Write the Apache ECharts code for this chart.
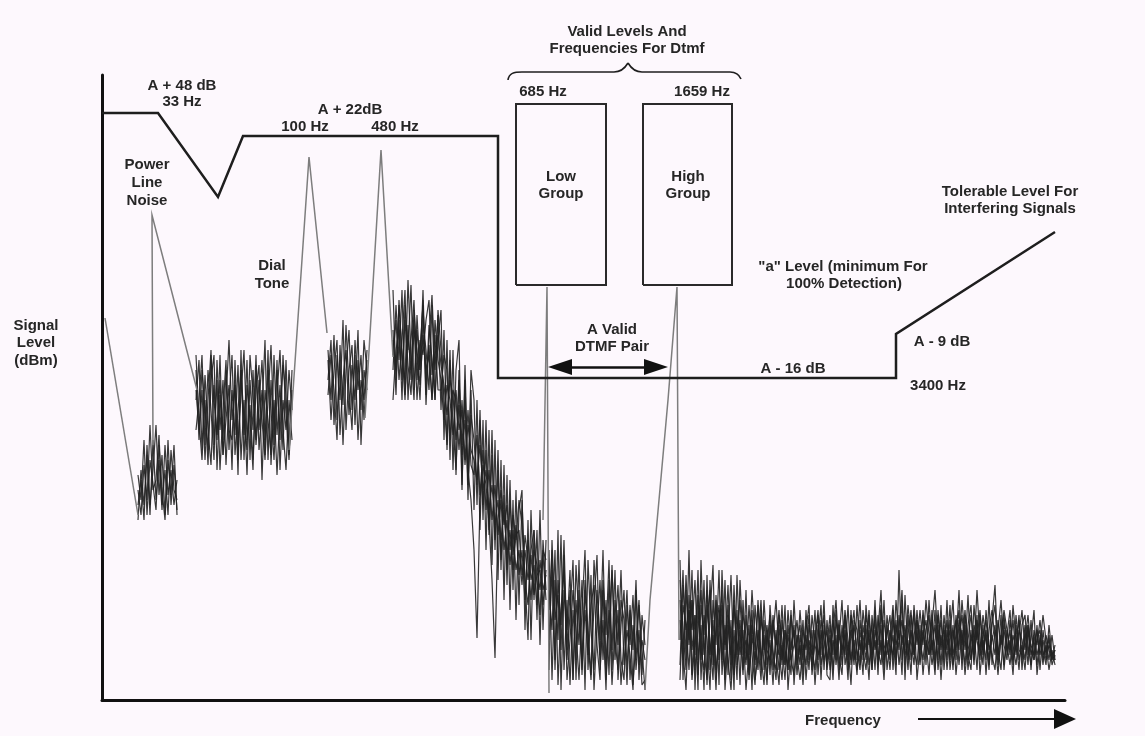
<!DOCTYPE html>
<html><head><meta charset="utf-8">
<script src="https://cdn.jsdelivr.net/npm/echarts@6/dist/echarts.min.js"></script>
<style>html,body{margin:0;padding:0;background:#fdf8fd}#c{width:1145px;height:736px}</style>
</head><body><div id="c"></div>
<script>
// ---- Data (relative frequency position / relative signal level units) ----
const maskFreq  = [0, 56, 116, 141, 396, 396, 794, 794, 953];
const maskLevel = [587, 587, 503, 564, 564, 322, 322, 366, 468];
const lowGroupFreq  = [414, 504];
const highGroupFreq = [541, 630];
const groupLevel    = [415, 596];
const introFreq = [3, 36],            introLevel = [382, 185];
const powerFreq = [51, 50, 95],       powerLevel = [255, 485, 310];
const tone100Freq = [187, 207, 225],  tone100Level = [250, 543, 367];
const tone480Freq = [263, 279, 291],  tone480Level = [282, 550, 343];
const lowToneFreq = [441, 445, 447],  lowToneLevel = [180, 413, 7];
const highToneFreq = [543, 548, 566, 575, 577], highToneLevel = [10, 100, 300, 413, 60];
const pairFreq = [458, 554], pairLevel = 333;
const noiseStep = 3;
const noiseStart = [36, 94, 226, 291, 447, 578];
const noiseR1 = [
 [180,230,195,245,185,260,200,240,190,255,205,230,195,220],
 [210,185,235,200,275,210,220,265,195,230,185,250,210,200],
 [195,220,180,255,195,230,275,205,245,185,260,195,235,190],
 [225,200,260,185,240,215,190,255,210,180,240,205,255,185]];
const noiseR2 = [
 [330,260,310,240,300,350,255,320,230,290,340,250,310,265,335,240,300,225,320,270,345,250,290,360,240,320,255,340,230,300,270,330,290],
 [300,340,250,325,270,235,315,260,345,245,280,315,230,340,255,305,350,260,295,240,310,335,220,310,280,245,345,265,315,250,340,245,310],
 [270,300,345,255,330,290,240,340,270,320,235,300,345,245,290,330,265,340,240,330,255,295,340,260,330,290,240,305,350,270,230,300,260],
 [345,280,240,300,235,320,345,230,305,260,330,270,260,320,225,350,240,315,280,230,335,270,310,245,350,235,300,225,290,335,305,250,330],
 [310,270,330,290,250,345,300,265,320,245,300,360,280,315,240,330,280,250,345,305,260,320,280,240,300,355,270,330,260,345,285,240,300]];
const noiseR3 = [
 [350,300,365,280,340,255,330,370,290,345,260,320,300,350],
 [320,360,275,345,300,380,270,330,355,275,340,290,360,330],
 [340,280,330,360,265,320,350,285,335,300,370,255,330,310],
 [305,345,310,260,355,295,375,310,270,360,310,345,280,340]];
const noiseR4 = [
 [410,320,380,300,395,350,415,310,370,330,400,295,360,405,330,385, 290,370,250,350,230,330,360,215,320,200,310, 190,300,170,280,150,270,135,260,120,240,100,225,90, 200,80,190,210,70,180,60,170,80,190,70,160],
 [330,395,340,410,305,375,320,390,345,300,380,350,310,395,300,360, 390,260,360,240,350,225,330,210,335,220,330, 300,195,290,180,280,165,270,150,250,130,235,115,220, 110,210,95,200,120,60,190,100,170,55,160,110],
 [370,305,400,340,320,420,345,300,385,330,410,305,375,340,300,390, 350,300,255,340,275,230,320,255,300,215,285, 260,215,280,195,250,170,245,160,230,140,205,130,200, 145,175,125,150,100,160,120,135,95,140,110,125],
 [345,380,320,360,410,300,360,400,320,360,345,380,400,325,365,310, 310,345,330,260,310,300,250,300,240,290,235, 225,265,205,250,190,230,180,215,165,200,150,180,135, 170,130,150,115,165,140,100,150,135,110,145,100],
 [300,350,370,320,380,335,305,370,350,315,365,330,345,300,380,340, 320,280,315,300,265,310,270,290,235,275,250, 240,220,255,210,230,190,215,175,200,160,190,145,170, 130,165,170,125,150,120,145,105,125,130,95,130],
 [360,330,395,350,300,365,330,380,300,350,395,320,355,300,345,365, 335,315,285,320,305,260,295,245,280,230,200, 150,62,200,235,215,180,120,42,180,210,175,195,150, 185,160,200,175,120,95,150,170,120,85,150,140]];
const noiseR5 = [
 [150,20,120,60,165,30,100,15,90,40,140,25,110,60,20,95,145,30,80,10,120,50,130,20,75,110,30,90,15,60,100,25,80],
 [60,130,40,170,10,110,70,130,20,100,55,120,10,140,70,30,110,60,150,35,90,15,70,115,40,20,95,55,105,30,70,15,20],
 [110,70,150,15,90,130,40,85,140,20,110,30,90,45,125,10,70,120,40,100,25,135,40,90,15,60,110,20,75,40,95,50,10],
 [30,160,80,105,50,145,20,60,110,70,20,90,150,30,95,115,55,20,120,65,140,30,100,55,130,35,70,45,10,110,35,60,40],
 [90,150,30,120,75,160,50,110,20,135,80,40,120,70,25,140,90,45,110,20,75,130,60,30,100,80,15,95,50,120,20,85,55]];
const noiseR6 = [
 [140,20,110,60,130,10,95,40,120,15, 85,135,20,70,110,10,60,125,30,90, 15,100,40,75,10,95,55,20,80,35, 60,15,70,30,55,20,75,40,25,65,
  35,80,20,60,45,90,25,70,40,55, 85,30,65,20,75,45,95,35,60,25, 80,50,30,70,40,100,35,60,20,75, 45,65,25,130,40,70,30,85,50,35,
  75,25,60,45,90,30,70,20,65,50, 95,35,55,110,40,75,30,65,45,85, 25,60,40,100,35,70,50,30,80,45, 60,25,75,40,55,30,70,45,60,35, 65,40,55,30,50,35],
 [60,130,40,150,25,85,10,140,50,20, 120,45,100,15,130,50,95,20,115,45, 80,30,110,20,65,35,100,45,15,70, 25,85,45,15,80,50,30,90,15,60,
  75,25,90,40,70,15,60,95,30,80, 40,70,100,45,25,85,30,65,90,40, 60,25,95,55,75,30,85,45,100,30, 60,95,40,70,25,105,45,60,90,20,
  55,85,35,100,50,75,40,95,30,70, 45,75,25,60,85,50,105,40,70,30, 85,45,65,30,75,95,40,85,30,65, 90,40,55,85,30,70,35,80,40,75, 30,70,45,65,35,45],
 [100,50,10,90,70,120,40,75,10,125, 30,65,10,90,40,120,25,80,10,125, 45,70,10,50,90,20,45,80,60,15, 95,50,20,75,35,95,10,55,70,35,
  55,15,70,95,25,60,85,20,75,40, 65,20,80,60,100,35,55,15,80,70, 35,90,60,20,85,50,70,110,40,65, 85,30,75,50,100,20,85,40,65,80,
  40,90,60,25,75,110,55,80,40,100, 30,60,80,35,70,25,60,85,50,110, 60,35,90,55,45,30,70,100,55,40, 80,55,35,65,90,50,75,30,70,55, 80,50,35,75,45,40],
 [20,95,75,30,100,45,130,20,85,60, 10,100,55,130,25,75,40,10,70,20, 120,60,35,95,45,15,70,30,100,50, 40,65,100,50,20,70,55,25,100,45,
  20,55,35,75,50,30,75,45,100,25, 20,95,40,75,50,65,20,90,40,55, 100,40,75,35,60,80,25,90,55,45, 70,40,100,60,80,45,60,25,95,55,
  90,55,100,65,35,60,85,50,75,30, 65,100,40,75,55,90,45,30,95,60, 40,75,25,70,90,60,25,65,90,70, 45,95,60,30,75,85,45,60,90,25, 55,85,60,40,65,40],
 [80,40,125,55,100,30,70,110,45,95, 60,20,105,40,85,55,115,35,95,50, 70,25,85,45,110,60,30,90,50,75, 35,80,55,90,40,70,30,85,60,40,
  90,50,65,30,85,55,40,80,60,35, 75,45,90,30,60,85,50,70,35,95, 50,65,40,85,30,70,55,95,40,60, 30,80,55,70,110,35,65,90,45,70,
  35,65,80,45,60,25,90,55,70,40, 80,45,65,90,30,85,55,40,75,60, 90,50,70,40,80,115,45,65,35,70, 50,80,45,70,60,40,75,55,45,70, 45,60,40,55,45,50],
 [35,115,70,90,20,60,105,50,30,80, 110,35,70,95,50,30,85,60,25,70, 100,45,60,30,80,50,95,40,65,20, 75,45,30,85,60,35,90,50,75,25,
  65,40,80,55,35,70,45,60,85,30, 55,80,35,65,45,90,60,40,75,50, 30,75,50,90,45,60,40,75,30,85, 55,45,80,35,65,50,95,60,35,80,
  60,40,70,85,45,90,30,65,50,80, 40,70,50,80,65,35,75,95,40,70, 50,85,60,35,65,45,80,55,70,50, 70,35,85,50,45,75,55,35,65,45, 60,35,65,50,40,55],
 [120,70,30,105,50,85,25,95,65,110, 45,80,30,60,95,20,75,45,100,35, 55,85,65,25,75,40,60,100,30,55, 85,30,60,45,95,35,65,40,55,80,
  45,70,50,85,30,60,90,35,55,70, 30,60,45,80,35,70,40,85,55,30, 70,45,85,60,30,90,50,35,80,55, 40,90,35,85,55,75,40,70,45,90,
  50,70,45,60,80,40,75,35,85,55, 70,30,85,50,100,60,40,70,35,80, 45,65,80,50,60,75,35,60,85,55, 35,65,50,80,40,60,85,50,40,60, 70,45,50,60,40,50]];

// ---- Build ----
const zip = (xs, ys) => xs.map((x, i) => [x, ys[i]]);
const rect = (fx, ly) => [[fx[0], ly[0]], [fx[0], ly[1]], [fx[1], ly[1]], [fx[1], ly[0]], [fx[0], ly[0]]];
function line(data, color, width, z, extra) {
  return Object.assign({ type: 'line', data, symbol: 'none', silent: true, clip: false, z,
    lineStyle: { color, width, join: 'miter' } }, extra || {});
}
const series = [];
const regions = [noiseR1, noiseR2, noiseR3, noiseR4, noiseR5, noiseR6];
regions.forEach((traces, r) => traces.forEach(vals => {
  series.push(line(vals.map((v, i) => [noiseStart[r] + i * noiseStep, v]), '#222', 1.2, 2,
    { lineStyle: { color: '#222', width: 1.2, opacity: 0.9 } }));
}));
const peakColor = '#7d7d7d';
[[introFreq, introLevel], [powerFreq, powerLevel], [tone100Freq, tone100Level], [tone480Freq, tone480Level],
 [lowToneFreq, lowToneLevel], [highToneFreq, highToneLevel]].forEach(([f, l]) => series.push(line(zip(f, l), peakColor, 1.5, 3)));
series.push(line(rect(lowGroupFreq, groupLevel), '#2a2a2a', 2, 5));
series.push(line(rect(highGroupFreq, groupLevel), '#2a2a2a', 2, 5));
series.push(line(zip(maskFreq, maskLevel), '#1e1e1e', 2.5, 6, {
  markLine: { silent: true, symbol: ['triangle', 'triangle'], symbolSize: [16, 24], animation: false,
    label: { show: false }, lineStyle: { type: 'solid', color: '#111', width: 2.5 },
    data: [[{ coord: [pairFreq[0], pairLevel] }, { coord: [pairFreq[1], pairLevel] }]] }
}));

const F = 'bold 15px "Liberation Sans", Arial, sans-serif';
const labels = [
  ['Valid Levels And', 627, 32], ['Frequencies For Dtmf', 627, 49],
  ['A + 48 dB', 182, 86], ['33 Hz', 182, 102],
  ['A + 22dB', 350, 110], ['100 Hz', 305, 127], ['480 Hz', 395, 127],
  ['685 Hz', 543, 92], ['1659 Hz', 702, 92],
  ['Low', 561, 177], ['Group', 561, 194], ['High', 688, 177], ['Group', 688, 194],
  ['Power', 147, 165], ['Line', 147, 183], ['Noise', 147, 201],
  ['Dial', 272, 266], ['Tone', 272, 284],
  ['Tolerable Level For', 1010, 192], ['Interfering Signals', 1010, 209],
  ['"a" Level (minimum For', 843, 267], ['100% Detection)', 844, 284],
  ['A Valid', 612, 330], ['DTMF Pair', 612, 347],
  ['A - 16 dB', 793, 369], ['A - 9 dB', 942, 342], ['3400 Hz', 938, 386],
  ['Signal', 36, 326], ['Level', 36, 343], ['(dBm)', 36, 361],
  ['Frequency', 843, 721]
];
const graphic = labels.map(([t, x, y]) => ({ type: 'text', x, y, silent: true, z: 20,
  style: { text: t, font: F, fill: '#262626', align: 'center', verticalAlign: 'middle' } }));
const braceStyle = { stroke: '#1e1e1e', lineWidth: 1.6, fill: 'none' };
[
  { x1: 508, y1: 80, cpx1: 509, cpy1: 73, cpx2: 514, cpy2: 72, x2: 522, y2: 72 },
  { x1: 614, y1: 72, cpx1: 621, cpy1: 72, cpx2: 625, cpy2: 68, x2: 628, y2: 63 },
  { x1: 628, y1: 63, cpx1: 631, cpy1: 68, cpx2: 635, cpy2: 72, x2: 642, y2: 72 },
  { x1: 730, y1: 72, cpx1: 736, cpy1: 72, cpx2: 739, cpy2: 74, x2: 741, y2: 79 }
].forEach(s => graphic.push({ type: 'bezierCurve', silent: true, z: 20, shape: s, style: braceStyle }));
graphic.push({ type: 'line', silent: true, z: 20, shape: { x1: 522, y1: 72, x2: 614, y2: 72 }, style: braceStyle });
graphic.push({ type: 'line', silent: true, z: 20, shape: { x1: 642, y1: 72, x2: 730, y2: 72 }, style: braceStyle });
graphic.push({ type: 'line', silent: true, z: 20, shape: { x1: 918, y1: 719, x2: 1058, y2: 719 }, style: { stroke: '#111', lineWidth: 2 } });
graphic.push({ type: 'polygon', silent: true, z: 20, shape: { points: [[1054, 709], [1076, 719], [1054, 729]] }, style: { fill: '#111' } });

const axisCommon = { type: 'value', axisTick: { show: false }, axisLabel: { show: false }, splitLine: { show: false },
  axisLine: { show: true, lineStyle: { color: '#111', width: 3 } } };
const chart = echarts.init(document.getElementById('c'), null, { renderer: 'canvas' });
chart.setOption({
  animation: false,
  backgroundColor: '#fdf8fd',
  grid: { left: 102, right: 80, top: 75, bottom: 36 },
  xAxis: Object.assign({ min: 0, max: 963 }, axisCommon),
  yAxis: Object.assign({ min: 0, max: 625 }, axisCommon),
  series, graphic
});
</script></body></html>
